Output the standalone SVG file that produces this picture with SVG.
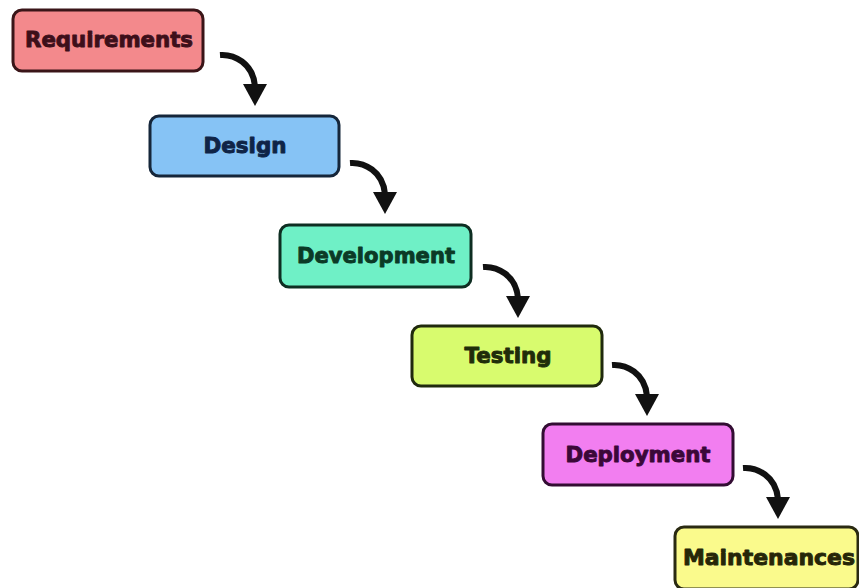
<svg xmlns="http://www.w3.org/2000/svg" xmlns:xlink="http://www.w3.org/1999/xlink" width="859" height="588" viewBox="0 0 859 588">
<style>
.box{stroke-width:3}
.lbl{font-family:"DejaVu Sans","Liberation Sans",sans-serif;font-weight:bold;font-size:21px;text-anchor:middle;stroke-width:0.9;stroke-linejoin:round}
.shaft{fill:none;stroke:#111;stroke-width:6;stroke-linecap:butt}
.head{fill:#111}
</style>
<defs>
<g id="arrow">
<path class="shaft" d="M0,0 C14,-1 33,8 35,31"/>
<polygon class="head" points="23,29 47,29 35,51"/>
</g>
</defs>
<rect width="859" height="588" fill="#ffffff"/>
<g id="connectors">
<use xlink:href="#arrow" href="#arrow" x="220" y="55"/>
<use xlink:href="#arrow" href="#arrow" x="350" y="163"/>
<use xlink:href="#arrow" href="#arrow" x="483" y="267"/>
<use xlink:href="#arrow" href="#arrow" x="612" y="365"/>
<use xlink:href="#arrow" href="#arrow" x="743" y="468"/>
</g>
<g id="requirements">
<rect class="box" x="13" y="10" width="190" height="61" rx="9" fill="#f3898c" stroke="#3a1518"/>
<text class="lbl" x="109" y="47" fill="#3d0f1a" stroke="#3d0f1a" textLength="168" lengthAdjust="spacingAndGlyphs">Requirements</text>
</g>
<g id="design">
<rect class="box" x="150" y="116" width="189" height="60" rx="9" fill="#86c3f5" stroke="#15263a"/>
<text class="lbl" x="245" y="153" fill="#0f2447" stroke="#0f2447" textLength="83" lengthAdjust="spacingAndGlyphs">Design</text>
</g>
<g id="development">
<rect class="box" x="280" y="225" width="191" height="62" rx="9" fill="#6ff0c6" stroke="#0e2e22"/>
<text class="lbl" x="376" y="263" fill="#0b3a26" stroke="#0b3a26" textLength="158" lengthAdjust="spacingAndGlyphs">Development</text>
</g>
<g id="testing">
<rect class="box" x="412" y="326" width="190" height="60" rx="9" fill="#d8fb6e" stroke="#202a0d"/>
<text class="lbl" x="508" y="363" fill="#1f2d0a" stroke="#1f2d0a" textLength="87" lengthAdjust="spacingAndGlyphs">Testing</text>
</g>
<g id="deployment">
<rect class="box" x="543" y="424" width="190" height="61" rx="9" fill="#f27ef0" stroke="#330d33"/>
<text class="lbl" x="638" y="462" fill="#3b0838" stroke="#3b0838" textLength="145" lengthAdjust="spacingAndGlyphs">Deployment</text>
</g>
<g id="maintenances">
<rect class="box" x="675" y="527" width="183" height="62" rx="9" fill="#fafa8c" stroke="#2a2a12"/>
<text class="lbl" x="769" y="565" fill="#262608" stroke="#262608" textLength="172" lengthAdjust="spacingAndGlyphs">Maintenances</text>
</g>
</svg>
